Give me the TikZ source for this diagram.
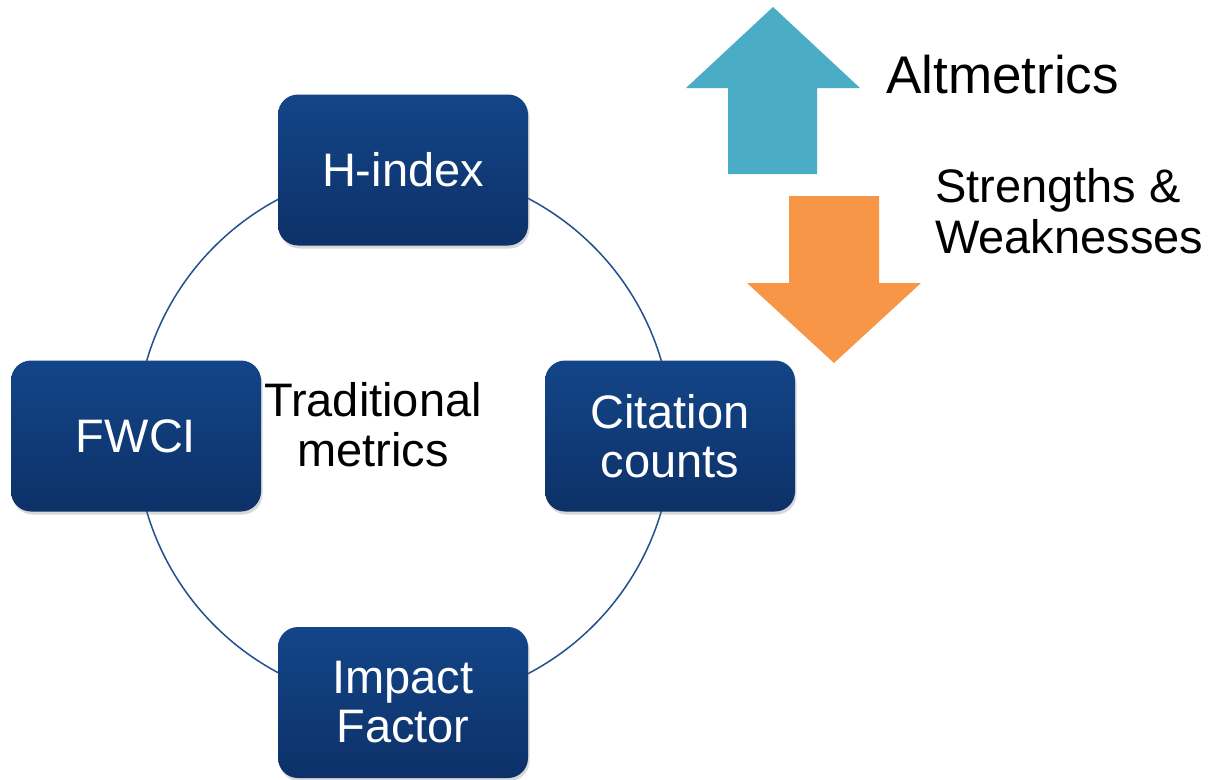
\documentclass[tikz,border=0pt]{standalone}
\usepackage{fontspec}
\setmainfont{Liberation Sans}
\usetikzlibrary{shadows}
\definecolor{boxtop}{RGB}{19,69,136}
\definecolor{boxbot}{RGB}{13,49,104}
\definecolor{ringcol}{RGB}{35,80,140}
\definecolor{tealar}{RGB}{75,172,198}
\definecolor{orangear}{RGB}{247,150,70}
\tikzset{
  metricbox/.style={rectangle, rounded corners=20pt, minimum width=250pt, minimum height=151pt,
    inner sep=0pt, top color=boxtop, bottom color=boxbot, draw=none, text=white, align=center,
    font=\fontsize{47}{49}\selectfont,
    drop shadow={opacity=0.3, shadow xshift=1.5pt, shadow yshift=-3pt}},
  plaintext/.style={inner sep=0pt, text=black, font=\fontsize{47}{50}\selectfont},
  ring/.style={draw=ringcol, line width=1.5pt},
}
\begin{document}
\begin{tikzpicture}[x=1pt, y=-1pt]
\useasboundingbox (0,0) rectangle (1212,779);
\fill[white] (0,0) rectangle (1212,779);
% ring
\coordinate (ringc) at (404,436);
\draw[ring] (ringc) circle[radius=268pt];
% boxes
\node[metricbox] (hindex) at (403,170) {H-index};
\node[metricbox] (fwci) at (136,436) {FWCI};
\node[metricbox] (citation) at (670,436) {Citation\\counts};
\node[metricbox] (impact) at (403,702.5) {Impact\\Factor};
% centre label
\node[plaintext, align=center] (trad) at (373,425) {Traditional\\metrics};
% arrows
\fill[tealar] (728,174) -- (728,88) -- (686,88) -- (773,7) -- (860,88) -- (817,88) -- (817,174) -- cycle;
\fill[orangear] (789,196) -- (879,196) -- (879,283) -- (921,283) -- (834,363) -- (747,283) -- (789,283) -- cycle;
% right labels
\node[plaintext, anchor=base west, font=\fontsize{53}{56}\selectfont] (alt) at (886,93) {Altmetrics};
\node[plaintext, anchor=north west, align=left, font=\fontsize{47}{51}\selectfont] (sw) at (935,168) {Strengths \&\\Weaknesses};
\end{tikzpicture}
\end{document}
